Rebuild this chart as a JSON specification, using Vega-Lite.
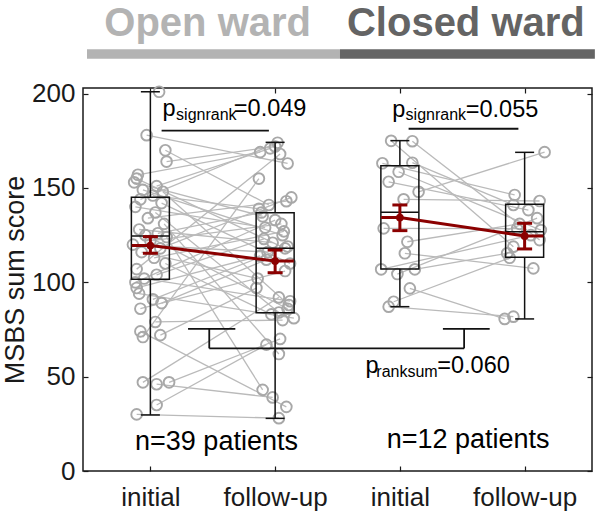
{
  "$schema": "https://vega.github.io/schema/vega-lite/v6.json",
  "width": 509,
  "height": 383,
  "autosize": {"type": "none"},
  "padding": {"left": 83, "top": 88, "right": 8, "bottom": 41},
  "background": "white",
  "config": {
    "view": {"stroke": "#1a1a1a", "strokeWidth": 1.5},
    "font": "Liberation Sans"
  },
  "datasets": {
    "scores": [
      {"id": "L1", "ward": "open", "time": "initial", "t": 1.07, "score": 201},
      {"id": "L2", "ward": "open", "time": "initial", "t": 0.97, "score": 178},
      {"id": "L2", "ward": "open", "time": "follow-up", "t": 2.10, "score": 163},
      {"id": "L3", "ward": "open", "time": "initial", "t": 1.12, "score": 170},
      {"id": "L3", "ward": "open", "time": "follow-up", "t": 1.95, "score": 141},
      {"id": "L4", "ward": "open", "time": "initial", "t": 1.13, "score": 164},
      {"id": "L4", "ward": "open", "time": "follow-up", "t": 2.00, "score": 172},
      {"id": "L5", "ward": "open", "time": "initial", "t": 0.90, "score": 157},
      {"id": "L5", "ward": "open", "time": "follow-up", "t": 1.88, "score": 169},
      {"id": "L6", "ward": "open", "time": "initial", "t": 0.89, "score": 155},
      {"id": "L6", "ward": "open", "time": "follow-up", "t": 2.08, "score": 118},
      {"id": "L7", "ward": "open", "time": "initial", "t": 0.87, "score": 153},
      {"id": "L7", "ward": "open", "time": "follow-up", "t": 1.90, "score": 135},
      {"id": "L8", "ward": "open", "time": "initial", "t": 1.05, "score": 151},
      {"id": "L8", "ward": "open", "time": "follow-up", "t": 1.96, "score": 171},
      {"id": "L9", "ward": "open", "time": "initial", "t": 0.94, "score": 149},
      {"id": "L9", "ward": "open", "time": "follow-up", "t": 2.06, "score": 125},
      {"id": "L10", "ward": "open", "time": "initial", "t": 1.10, "score": 148},
      {"id": "L10", "ward": "open", "time": "follow-up", "t": 2.11, "score": 88},
      {"id": "L11", "ward": "open", "time": "initial", "t": 1.02, "score": 146},
      {"id": "L11", "ward": "open", "time": "follow-up", "t": 1.87, "score": 139},
      {"id": "L12", "ward": "open", "time": "initial", "t": 0.92, "score": 144},
      {"id": "L12", "ward": "open", "time": "follow-up", "t": 2.02, "score": 174},
      {"id": "L13", "ward": "open", "time": "initial", "t": 1.09, "score": 142},
      {"id": "L13", "ward": "open", "time": "follow-up", "t": 2.12, "score": 110},
      {"id": "L14", "ward": "open", "time": "initial", "t": 0.88, "score": 140},
      {"id": "L14", "ward": "open", "time": "follow-up", "t": 1.92, "score": 129},
      {"id": "L15", "ward": "open", "time": "initial", "t": 1.04, "score": 137},
      {"id": "L15", "ward": "open", "time": "follow-up", "t": 2.03, "score": 84},
      {"id": "L16", "ward": "open", "time": "initial", "t": 0.98, "score": 134},
      {"id": "L16", "ward": "open", "time": "follow-up", "t": 2.09, "score": 143},
      {"id": "L17", "ward": "open", "time": "initial", "t": 1.11, "score": 131},
      {"id": "L17", "ward": "open", "time": "follow-up", "t": 2.03, "score": 62},
      {"id": "L18", "ward": "open", "time": "initial", "t": 0.91, "score": 128},
      {"id": "L18", "ward": "open", "time": "follow-up", "t": 1.98, "score": 121},
      {"id": "L19", "ward": "open", "time": "initial", "t": 1.06, "score": 126},
      {"id": "L19", "ward": "open", "time": "follow-up", "t": 1.89, "score": 137},
      {"id": "L20", "ward": "open", "time": "initial", "t": 0.96, "score": 125},
      {"id": "L20", "ward": "open", "time": "follow-up", "t": 2.10, "score": 86},
      {"id": "L21", "ward": "open", "time": "initial", "t": 1.13, "score": 124},
      {"id": "L21", "ward": "open", "time": "follow-up", "t": 1.90, "score": 43},
      {"id": "L22", "ward": "open", "time": "initial", "t": 1.00, "score": 122},
      {"id": "L22", "ward": "open", "time": "follow-up", "t": 2.05, "score": 131},
      {"id": "L23", "ward": "open", "time": "initial", "t": 0.86, "score": 120},
      {"id": "L23", "ward": "open", "time": "follow-up", "t": 1.94, "score": 116},
      {"id": "L24", "ward": "open", "time": "initial", "t": 1.08, "score": 118},
      {"id": "L24", "ward": "open", "time": "follow-up", "t": 2.13, "score": 145},
      {"id": "L25", "ward": "open", "time": "initial", "t": 0.93, "score": 116},
      {"id": "L25", "ward": "open", "time": "follow-up", "t": 1.86, "score": 102},
      {"id": "L26", "ward": "open", "time": "initial", "t": 1.03, "score": 113},
      {"id": "L26", "ward": "open", "time": "follow-up", "t": 2.07, "score": 127},
      {"id": "L27", "ward": "open", "time": "initial", "t": 1.12, "score": 110},
      {"id": "L27", "ward": "open", "time": "follow-up", "t": 1.97, "score": 83},
      {"id": "L28", "ward": "open", "time": "initial", "t": 0.89, "score": 107},
      {"id": "L28", "ward": "open", "time": "follow-up", "t": 2.04, "score": 168},
      {"id": "L29", "ward": "open", "time": "initial", "t": 1.05, "score": 104},
      {"id": "L29", "ward": "open", "time": "follow-up", "t": 1.91, "score": 123},
      {"id": "L30", "ward": "open", "time": "initial", "t": 0.95, "score": 102},
      {"id": "L30", "ward": "open", "time": "follow-up", "t": 2.12, "score": 90},
      {"id": "L31", "ward": "open", "time": "initial", "t": 0.88, "score": 100},
      {"id": "L31", "ward": "open", "time": "follow-up", "t": 2.00, "score": 133},
      {"id": "L32", "ward": "open", "time": "initial", "t": 0.89, "score": 97},
      {"id": "L32", "ward": "open", "time": "follow-up", "t": 1.88, "score": 114},
      {"id": "L33", "ward": "open", "time": "initial", "t": 0.91, "score": 94},
      {"id": "L33", "ward": "open", "time": "follow-up", "t": 2.15, "score": 81},
      {"id": "L34", "ward": "open", "time": "initial", "t": 1.02, "score": 91},
      {"id": "L34", "ward": "open", "time": "follow-up", "t": 2.10, "score": 119},
      {"id": "L35", "ward": "open", "time": "initial", "t": 1.09, "score": 89},
      {"id": "L35", "ward": "open", "time": "follow-up", "t": 1.93, "score": 112},
      {"id": "L36", "ward": "open", "time": "initial", "t": 0.92, "score": 86},
      {"id": "L36", "ward": "open", "time": "follow-up", "t": 2.08, "score": 106},
      {"id": "L37", "ward": "open", "time": "initial", "t": 1.04, "score": 79},
      {"id": "L37", "ward": "open", "time": "follow-up", "t": 2.06, "score": 80},
      {"id": "L38", "ward": "open", "time": "initial", "t": 0.92, "score": 74},
      {"id": "L38", "ward": "open", "time": "follow-up", "t": 2.09, "score": 34},
      {"id": "L39", "ward": "open", "time": "initial", "t": 1.08, "score": 72},
      {"id": "L39", "ward": "open", "time": "follow-up", "t": 1.85, "score": 97},
      {"id": "L40", "ward": "open", "time": "initial", "t": 0.94, "score": 71},
      {"id": "L40", "ward": "open", "time": "follow-up", "t": 1.87, "score": 155},
      {"id": "L41", "ward": "open", "time": "initial", "t": 0.94, "score": 47},
      {"id": "L41", "ward": "open", "time": "follow-up", "t": 2.03, "score": 92},
      {"id": "L42", "ward": "open", "time": "initial", "t": 1.15, "score": 47},
      {"id": "L42", "ward": "open", "time": "follow-up", "t": 2.04, "score": 70},
      {"id": "L43", "ward": "open", "time": "initial", "t": 1.05, "score": 46},
      {"id": "L43", "ward": "open", "time": "follow-up", "t": 1.98, "score": 39},
      {"id": "L44", "ward": "open", "time": "initial", "t": 1.05, "score": 35},
      {"id": "L44", "ward": "open", "time": "follow-up", "t": 1.93, "score": 67},
      {"id": "L45", "ward": "open", "time": "initial", "t": 0.89, "score": 30},
      {"id": "L45", "ward": "open", "time": "follow-up", "t": 2.03, "score": 28},
      {"id": "Ra", "ward": "closed", "time": "initial", "t": 2.93, "score": 175.0},
      {"id": "Ra", "ward": "closed", "time": "follow-up", "t": 3.91, "score": 118.9},
      {"id": "Rb", "ward": "closed", "time": "initial", "t": 3.10, "score": 174.8},
      {"id": "Rb", "ward": "closed", "time": "follow-up", "t": 4.12, "score": 122.4},
      {"id": "Rc", "ward": "closed", "time": "initial", "t": 2.86, "score": 163.1},
      {"id": "Rc", "ward": "closed", "time": "follow-up", "t": 3.92, "score": 146.3},
      {"id": "Rd", "ward": "closed", "time": "initial", "t": 3.10, "score": 163.4},
      {"id": "Rd", "ward": "closed", "time": "follow-up", "t": 3.91, "score": 141.0},
      {"id": "Re", "ward": "closed", "time": "initial", "t": 2.99, "score": 158.6},
      {"id": "Re", "ward": "closed", "time": "follow-up", "t": 4.13, "score": 127.7},
      {"id": "Rf", "ward": "closed", "time": "initial", "t": 2.91, "score": 153.3},
      {"id": "Rf", "ward": "closed", "time": "follow-up", "t": 4.03, "score": 138.3},
      {"id": "Rg", "ward": "closed", "time": "initial", "t": 3.15, "score": 148.0},
      {"id": "Rg", "ward": "closed", "time": "follow-up", "t": 4.16, "score": 169.0},
      {"id": "Rh", "ward": "closed", "time": "initial", "t": 3.03, "score": 144.0},
      {"id": "Rh", "ward": "closed", "time": "follow-up", "t": 4.12, "score": 143.1},
      {"id": "Ri", "ward": "closed", "time": "initial", "t": 2.87, "score": 128.6},
      {"id": "Ri", "ward": "closed", "time": "follow-up", "t": 3.94, "score": 128.5},
      {"id": "Rj", "ward": "closed", "time": "initial", "t": 3.06, "score": 121.5},
      {"id": "Rj", "ward": "closed", "time": "follow-up", "t": 3.96, "score": 131.0},
      {"id": "Rk", "ward": "closed", "time": "initial", "t": 3.04, "score": 115.4},
      {"id": "Rk", "ward": "closed", "time": "follow-up", "t": 4.07, "score": 107.4},
      {"id": "Rl", "ward": "closed", "time": "initial", "t": 2.85, "score": 106.9},
      {"id": "Rl", "ward": "closed", "time": "follow-up", "t": 4.05, "score": 125.0},
      {"id": "Rm", "ward": "closed", "time": "initial", "t": 3.12, "score": 106.9},
      {"id": "Rm", "ward": "closed", "time": "follow-up", "t": 3.86, "score": 115.4},
      {"id": "Rn", "ward": "closed", "time": "initial", "t": 2.98, "score": 104.4},
      {"id": "Rn", "ward": "closed", "time": "follow-up", "t": 4.10, "score": 134.0},
      {"id": "Ro", "ward": "closed", "time": "initial", "t": 3.08, "score": 96.8},
      {"id": "Ro", "ward": "closed", "time": "follow-up", "t": 3.84, "score": 80.6},
      {"id": "Rp", "ward": "closed", "time": "initial", "t": 2.91, "score": 87.1},
      {"id": "Rp", "ward": "closed", "time": "follow-up", "t": 3.91, "score": 81.8},
      {"id": "Rq", "ward": "closed", "time": "initial", "t": 2.95, "score": 89.7},
      {"id": "Rq", "ward": "closed", "time": "follow-up", "t": 3.88, "score": 113.0}
    ],
    "stats": [
      {"ward": "open", "time": "initial", "pos": 1, "min": 29.7, "q1": 101.6, "median": 124.6, "q3": 145.1, "max": 201, "mean": 119.5, "lo": 115.4, "hi": 124.2},
      {"ward": "open", "time": "follow-up", "pos": 2, "min": 27.9, "q1": 83.9, "median": 118.0, "q3": 136.9, "max": 174.2, "mean": 111.3, "lo": 105.1, "hi": 117.1},
      {"ward": "closed", "time": "initial", "pos": 3, "min": 87.1, "q1": 107.1, "median": 137.1, "q3": 161.8, "max": 175.1, "mean": 134.3, "lo": 127.4, "hi": 141.0},
      {"ward": "closed", "time": "follow-up", "pos": 4, "min": 80.6, "q1": 113.3, "median": 126.8, "q3": 141.4, "max": 168.9, "mean": 124.6, "lo": 117.7, "hi": 131.3}
    ],
    "meanline": [
      {"ward": "open", "t": 0.85, "v": 119.5},
      {"ward": "open", "t": 1, "v": 119.5},
      {"ward": "open", "t": 2, "v": 111.3},
      {"ward": "open", "t": 2.15, "v": 111.3},
      {"ward": "closed", "t": 2.85, "v": 134.3},
      {"ward": "closed", "t": 3, "v": 134.3},
      {"ward": "closed", "t": 4, "v": 124.6},
      {"ward": "closed", "t": 4.15, "v": 124.6}
    ],
    "segments": [
      {"part": "ranksum", "x": 1.302, "x2": 1.681, "y": 75.3, "y2": 75.3},
      {"part": "ranksum", "x": 1.472, "x2": 1.472, "y": 75.3, "y2": 65.0},
      {"part": "ranksum", "x": 1.472, "x2": 3.515, "y": 65.0, "y2": 65.0},
      {"part": "ranksum", "x": 3.515, "x2": 3.515, "y": 65.0, "y2": 75.3},
      {"part": "ranksum", "x": 3.345, "x2": 3.720, "y": 75.3, "y2": 75.3},
      {"part": "signrank", "x": 1.09, "x2": 1.95, "y": 180.4, "y2": 180.4},
      {"part": "signrank", "x": 3.07, "x2": 3.95, "y": 181.4, "y2": 181.4}
    ],
    "header": [
      {"ward": "open", "x": 0.492, "x2": 2.52, "y": 218.5, "y2": 223.5, "cx": 1.459, "ty": 230.6, "label": "Open ward"},
      {"ward": "closed", "x": 2.52, "x2": 4.563, "y": 218.5, "y2": 223.5, "cx": 3.529, "ty": 230.6, "label": "Closed ward"}
    ],
    "notes": [
      {"role": "main", "x": 1.097, "y": 188.2, "label": "p"},
      {"role": "sub", "x": 1.206, "y": 186.0, "label": "signrank"},
      {"role": "main", "x": 1.669, "y": 188.2, "label": "=0.049"},
      {"role": "main", "x": 2.939, "y": 187.8, "label": "p"},
      {"role": "sub", "x": 3.046, "y": 185.8, "label": "signrank"},
      {"role": "main", "x": 3.528, "y": 187.8, "label": "=0.055"},
      {"role": "main", "x": 2.724, "y": 52.1, "label": "p"},
      {"role": "sub", "x": 2.811, "y": 50.0, "label": "ranksum"},
      {"role": "main", "x": 3.300, "y": 52.1, "label": "=0.060"},
      {"role": "n", "x": 1.53, "y": 11.1, "label": "n=39 patients"},
      {"role": "n", "x": 3.547, "y": 12.2, "label": "n=12 patients"}
    ]
  },
  "resolve": {"axis": {"x": "independent", "y": "independent"}},
  "layer": [
    {
      "data": {"name": "header"},
      "mark": {"type": "rect"},
      "encoding": {
        "x": {"field": "x", "type": "quantitative", "scale": {"domain": [0.5, 4.5], "nice": false, "zero": false}, "axis": null},
        "x2": {"field": "x2"},
        "y": {"field": "y", "type": "quantitative", "scale": {"domain": [0, 203], "nice": false, "zero": false}, "axis": null},
        "y2": {"field": "y2"},
        "color": {"field": "ward", "type": "nominal", "scale": {"domain": ["open", "closed"], "range": ["#b3b3b3", "#646464"]}, "legend": null}
      }
    },
    {
      "data": {"name": "header"},
      "mark": {"type": "text", "font": "Liberation Sans", "fontWeight": "bold", "fontSize": 40, "align": "center", "baseline": "alphabetic"},
      "encoding": {
        "x": {"field": "cx", "type": "quantitative", "axis": null},
        "y": {"field": "ty", "type": "quantitative", "axis": null},
        "text": {"field": "label"},
        "color": {"field": "ward", "type": "nominal", "legend": null}
      }
    },
    {
      "data": {"name": "scores"},
      "mark": {"type": "line", "color": "#bababa", "strokeWidth": 1.3},
      "encoding": {
        "x": {
          "field": "t", "type": "quantitative",
          "scale": {"domain": [0.5, 4.5], "nice": false, "zero": false},
          "axis": {"orient": "bottom", "values": [1, 2, 3, 4], "labelExpr": "datum.value == 1 || datum.value == 3 ? 'initial' : 'follow-up'", "tickSize": -5, "tickWidth": 1.2, "tickColor": "#1a1a1a", "labelPadding": 39, "labelBaseline": "alphabetic", "labelFontSize": 26, "labelFont": "Liberation Sans", "labelColor": "#1a1a1a", "domain": false, "grid": false, "title": null, "labelFlush": false}
        },
        "y": {
          "field": "score", "type": "quantitative",
          "scale": {"domain": [0, 203], "nice": false, "zero": false},
          "axis": {"orient": "left", "values": [0, 50, 100, 150, 200], "tickSize": -5, "tickWidth": 1.2, "tickColor": "#1a1a1a", "labelPadding": 13, "labelFontSize": 26, "labelFont": "Liberation Sans", "labelColor": "#1a1a1a", "domain": false, "grid": false, "title": "MSBS sum score", "titleFont": "Liberation Sans", "titleFontSize": 27, "titleFontWeight": "normal", "titleColor": "#1a1a1a", "titlePadding": 2, "labelFlush": false}
        },
        "detail": {"field": "id"}
      }
    },
    {
      "data": {"name": "scores"},
      "mark": {"type": "point", "shape": "circle", "filled": false, "stroke": "#a8a8a8", "strokeWidth": 1.9, "size": 115, "opacity": 1},
      "encoding": {
        "x": {"field": "t", "type": "quantitative", "axis": {"orient": "top", "values": [1, 2, 3, 4], "tickSize": -5, "tickWidth": 1.2, "tickColor": "#1a1a1a", "labels": false, "domain": false, "grid": false, "title": null}},
        "y": {"field": "score", "type": "quantitative", "axis": {"orient": "right", "values": [0, 50, 100, 150, 200], "tickSize": -5, "tickWidth": 1.2, "tickColor": "#1a1a1a", "labels": false, "domain": false, "grid": false, "title": null}}
      }
    },
    {
      "data": {"name": "stats"},
      "mark": {"type": "rule", "color": "#111111", "strokeWidth": 1.5},
      "encoding": {
        "x": {"field": "pos", "type": "quantitative", "axis": null},
        "y": {"field": "q3", "type": "quantitative", "axis": null},
        "y2": {"field": "max"}
      }
    },
    {
      "data": {"name": "stats"},
      "mark": {"type": "rule", "color": "#111111", "strokeWidth": 1.5},
      "encoding": {
        "x": {"field": "pos", "type": "quantitative", "axis": null},
        "y": {"field": "min", "type": "quantitative", "axis": null},
        "y2": {"field": "q1"}
      }
    },
    {
      "data": {"name": "stats"},
      "mark": {"type": "tick", "orient": "horizontal", "size": 19, "thickness": 1.5, "color": "#111111", "opacity": 1},
      "encoding": {
        "x": {"field": "pos", "type": "quantitative", "axis": null},
        "y": {"field": "max", "type": "quantitative", "axis": null}
      }
    },
    {
      "data": {"name": "stats"},
      "mark": {"type": "tick", "orient": "horizontal", "size": 19, "thickness": 1.5, "color": "#111111", "opacity": 1},
      "encoding": {
        "x": {"field": "pos", "type": "quantitative", "axis": null},
        "y": {"field": "min", "type": "quantitative", "axis": null}
      }
    },
    {
      "data": {"name": "stats"},
      "mark": {"type": "bar", "width": 38, "fill": "transparent", "stroke": "#111111", "strokeWidth": 1.5},
      "encoding": {
        "x": {"field": "pos", "type": "quantitative", "axis": null},
        "y": {"field": "q1", "type": "quantitative", "axis": null},
        "y2": {"field": "q3"}
      }
    },
    {
      "data": {"name": "stats"},
      "mark": {"type": "tick", "orient": "horizontal", "size": 38, "thickness": 1.5, "color": "#111111", "opacity": 1},
      "encoding": {
        "x": {"field": "pos", "type": "quantitative", "axis": null},
        "y": {"field": "median", "type": "quantitative", "axis": null}
      }
    },
    {
      "mark": {"type": "rule", "color": "#1a1a1a", "strokeWidth": 1.5},
      "encoding": {
        "x": {"datum": 2.5, "type": "quantitative", "axis": null},
        "y": {"datum": 0, "type": "quantitative", "axis": null},
        "y2": {"datum": 203}
      }
    },
    {
      "data": {"name": "segments"},
      "mark": {"type": "rule", "color": "#111111", "strokeWidth": 1.8},
      "encoding": {
        "x": {"field": "x", "type": "quantitative", "axis": null},
        "x2": {"field": "x2"},
        "y": {"field": "y", "type": "quantitative", "axis": null},
        "y2": {"field": "y2"}
      }
    },
    {
      "data": {"name": "meanline"},
      "mark": {"type": "line", "color": "#8b0000", "strokeWidth": 3},
      "encoding": {
        "x": {"field": "t", "type": "quantitative", "axis": null},
        "y": {"field": "v", "type": "quantitative", "axis": null},
        "detail": {"field": "ward"}
      }
    },
    {
      "data": {"name": "stats"},
      "mark": {"type": "rule", "color": "#8b0000", "strokeWidth": 3},
      "encoding": {
        "x": {"field": "pos", "type": "quantitative", "axis": null},
        "y": {"field": "lo", "type": "quantitative", "axis": null},
        "y2": {"field": "hi"}
      }
    },
    {
      "data": {"name": "stats"},
      "mark": {"type": "tick", "orient": "horizontal", "size": 15, "thickness": 3, "color": "#8b0000", "opacity": 1},
      "encoding": {
        "x": {"field": "pos", "type": "quantitative", "axis": null},
        "y": {"field": "hi", "type": "quantitative", "axis": null}
      }
    },
    {
      "data": {"name": "stats"},
      "mark": {"type": "tick", "orient": "horizontal", "size": 15, "thickness": 3, "color": "#8b0000", "opacity": 1},
      "encoding": {
        "x": {"field": "pos", "type": "quantitative", "axis": null},
        "y": {"field": "lo", "type": "quantitative", "axis": null}
      }
    },
    {
      "data": {"name": "stats"},
      "mark": {"type": "point", "shape": "circle", "filled": true, "color": "#8b0000", "size": 60, "opacity": 1},
      "encoding": {
        "x": {"field": "pos", "type": "quantitative", "axis": null},
        "y": {"field": "mean", "type": "quantitative", "axis": null}
      }
    },
    {
      "data": {"name": "notes"},
      "transform": [{"filter": "datum.role == 'main'"}],
      "mark": {"type": "text", "font": "Liberation Sans", "fontSize": 23.5, "align": "left", "baseline": "alphabetic", "color": "#000000"},
      "encoding": {
        "x": {"field": "x", "type": "quantitative", "axis": null},
        "y": {"field": "y", "type": "quantitative", "axis": null},
        "text": {"field": "label"}
      }
    },
    {
      "data": {"name": "notes"},
      "transform": [{"filter": "datum.role == 'sub'"}],
      "mark": {"type": "text", "font": "Liberation Sans", "fontSize": 16, "align": "left", "baseline": "alphabetic", "color": "#000000"},
      "encoding": {
        "x": {"field": "x", "type": "quantitative", "axis": null},
        "y": {"field": "y", "type": "quantitative", "axis": null},
        "text": {"field": "label"}
      }
    },
    {
      "data": {"name": "notes"},
      "transform": [{"filter": "datum.role == 'n'"}],
      "mark": {"type": "text", "font": "Liberation Sans", "fontSize": 27, "align": "center", "baseline": "alphabetic", "color": "#000000"},
      "encoding": {
        "x": {"field": "x", "type": "quantitative", "axis": null},
        "y": {"field": "y", "type": "quantitative", "axis": null},
        "text": {"field": "label"}
      }
    }
  ]
}
